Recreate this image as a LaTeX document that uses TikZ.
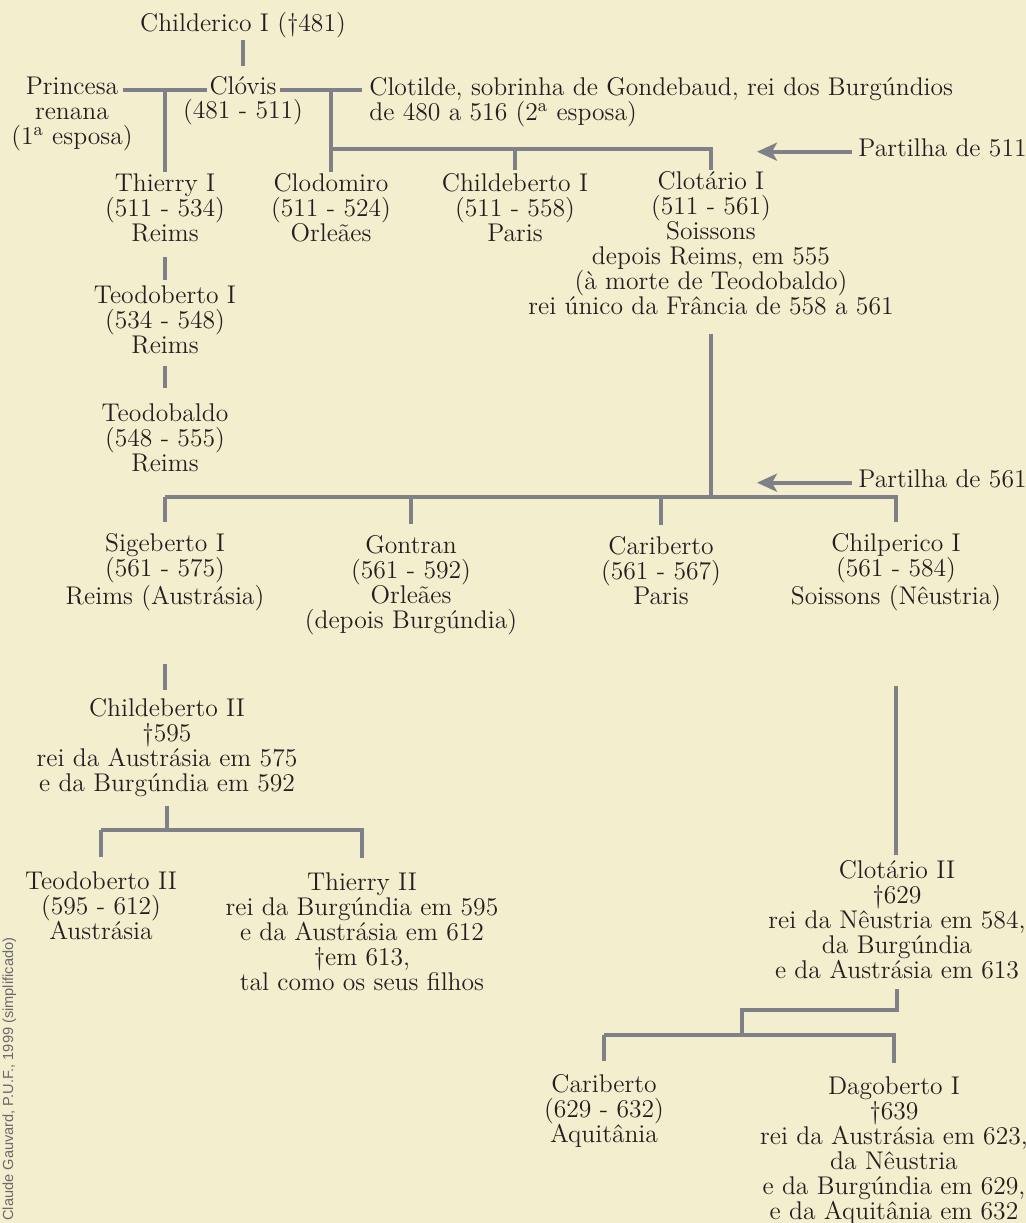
\documentclass[tikz,border=0pt]{standalone}
\usepackage{fontspec}
\usepackage{tikz}
\usetikzlibrary{arrows.meta}
\newfontfamily\creditfont{Liberation Sans}
\definecolor{parchment}{RGB}{243,238,205}
\definecolor{stem}{RGB}{128,128,136}
\definecolor{ink}{RGB}{35,31,32}
\definecolor{creditgray}{RGB}{105,105,110}

\begin{document}
\begin{tikzpicture}[x=0.5pt,y=-0.5pt]
\tikzstyle{every node}+=[inner sep=0pt, align=center, anchor=base, text=ink, font=\fontsize{12.8}{12.5}\selectfont]
\tikzstyle{link}=[draw=stem, line width=1.8pt]
\tikzstyle{pointer}=[link, -{Stealth[length=10pt,width=9pt,inset=2.5pt]}]
\fill [parchment] (0,0) rectangle (1026,1223);
\useasboundingbox (0,0) rectangle (1026,1223);
\node (childerico) at (243,31) {Childerico I (\textdagger481)};
\node (clovis) at (243,94) {Clóvis};
\node (clovisreign) at (243,118) {(481 - 511)};
\node (princesa) at (72,94) {Princesa};
\node (princesanote) at (72,144) {renana\\(1\textsuperscript{a} esposa)};
\node (clotilde) [anchor=base west, align=left] at (369,120) {Clotilde, sobrinha de Gondebaud, rei dos Burgúndios\\de 480 a 516 (2\textsuperscript{a} esposa)};
\node (partilha511) [anchor=base west] at (858,156) {Partilha de 511};
\coordinate (tip511) at (757,149);
\coordinate (bar511) at (0,149);
\node (thierry) at (165,241) {Thierry I\\(511 - 534)\\Reims};
\node (clodomiro) at (331,241) {Clodomiro\\(511 - 524)\\Orleães};
\node (childeberto) at (515,241) {Childeberto I\\(511 - 558)\\Paris};
\node (clotario) at (711,314) {Clotário I\\(511 - 561)\\Soissons\\depois Reims, em 555\\(à morte de Teodobaldo)\\rei único da Frância de 558 a 561};
\node (teodoberto) at (165,353) {Teodoberto I\\(534 - 548)\\Reims};
\node (teodobaldo) at (165,471) {Teodobaldo\\(548 - 555)\\Reims};
\node (partilha561) [anchor=base west] at (858,487) {Partilha de 561};
\coordinate (tip561) at (757,480);
\coordinate (bar561) at (0,497);
\node (sigeberto) at (165,604) {Sigeberto I\\(561 - 575)\\Reims (Austrásia)};
\node (gontran) at (411,628) {Gontran\\(561 - 592)\\Orleães\\(depois Burgúndia)};
\node (cariberto) at (661,604) {Cariberto\\(561 - 567)\\Paris};
\node (chilperico) at (896,604) {Chilperico I\\(561 - 584)\\Soissons (Nêustria)};
\node (childebertoII) at (167,791) {Childeberto II\\\textdagger595\\rei da Austrásia em 575\\e da Burgúndia em 592};
\coordinate (bar595) at (0,830);
\node (teodobertoII) at (101,939) {Teodoberto II\\(595 - 612)\\Austrásia};
\node (thierryII) at (362,990) {Thierry II\\rei da Burgúndia em 595\\e da Austrásia em 612\\\textdagger em 613,\\tal como os seus filhos};
\node (clotarioII) at (897,978) {Clotário II\\\textdagger629\\rei da Nêustria em 584,\\da Burgúndia\\e da Austrásia em 613};
\coordinate (step629) at (742,1010);
\coordinate (bar629) at (0,1035);
\node (caribertoII) at (604,1142) {Cariberto\\(629 - 632)\\Aquitânia};
\node (dagoberto) at (894,1219) {Dagoberto I\\\textdagger639\\rei da Austrásia em 623,\\da Nêustria\\e da Burgúndia em 629,\\e da Aquitânia em 632};
\node (credit) [anchor=base west, rotate=90, text=creditgray, font=\creditfont\fontsize{7.3}{8}\selectfont] at (13,1221) {Claude Gauvard, P.U.F., 1999 (simplificado)};
\draw [link, shorten <=1.3pt, shorten >=5pt] (childerico) -- (clovis);
\draw [link, shorten <=2pt, shorten >=1pt] (princesa.mid east) -- (clovis.mid west);
\draw [link, shorten <=1.5pt, shorten >=3.5pt] (clovis.mid east) -- (clovis.mid east -| clotilde.west);
\draw [link, shorten >=0.5pt] (thierry.north |- clovis.mid west) -- (thierry.north);
\draw [link, shorten >=0.5pt] (clodomiro.north |- clovis.mid east) -- (clodomiro.north);
\draw [link, shorten >=0.5pt] (clodomiro.north |- bar511) -| (clotario.north);
\draw [link, shorten >=1.5pt] (childeberto.north |- bar511) -- (childeberto.north);
\draw [pointer, shorten <=3pt] (partilha511.mid west) -- (partilha511.mid west -| tip511);
\draw [link, shorten <=7.5pt, shorten >=2.5pt] (thierry) -- (teodoberto);
\draw [link, shorten <=6pt, shorten >=7.5pt] (teodoberto) -- (teodobaldo);
\draw [link, shorten <=9.5pt] (clotario.south) -- (clotario.south |- bar561);
\draw [link, shorten >=5.5pt] (sigeberto.north |- bar561) -| (chilperico.north);
\draw [link, shorten >=5.5pt] (sigeberto.north |- bar561) -- (sigeberto.north);
\draw [link, shorten >=5.5pt] (gontran.north |- bar561) -- (gontran.north);
\draw [link, shorten >=5.5pt] (cariberto.north |- bar561) -- (cariberto.north);
\draw [pointer, shorten <=3pt] (partilha561.mid west) -- (partilha561.mid west -| tip561);
\draw [link, shorten <=26.8pt, shorten >=4pt] (sigeberto.south) -- (sigeberto.south |- childebertoII.north);
\draw [link, shorten <=4.5pt] (childebertoII.south) -- (childebertoII.south |- bar595);
\draw [link, shorten >=7pt] (teodobertoII.north |- bar595) -| (thierryII.north);
\draw [link, shorten >=7pt] (teodobertoII.north |- bar595) -- (teodobertoII.north);
\draw [link, shorten <=37.8pt, shorten >=2.5pt] (chilperico.south) -- (chilperico.south |- clotarioII.north);
\draw [link, shorten <=5pt] (clotarioII.south) |- (step629) -- (step629 |- bar629);
\draw [link, shorten >=6.5pt] (caribertoII.north |- bar629) -| (dagoberto.north);
\draw [link, shorten >=6.5pt] (caribertoII.north |- bar629) -- (caribertoII.north);
\end{tikzpicture}
\end{document}
